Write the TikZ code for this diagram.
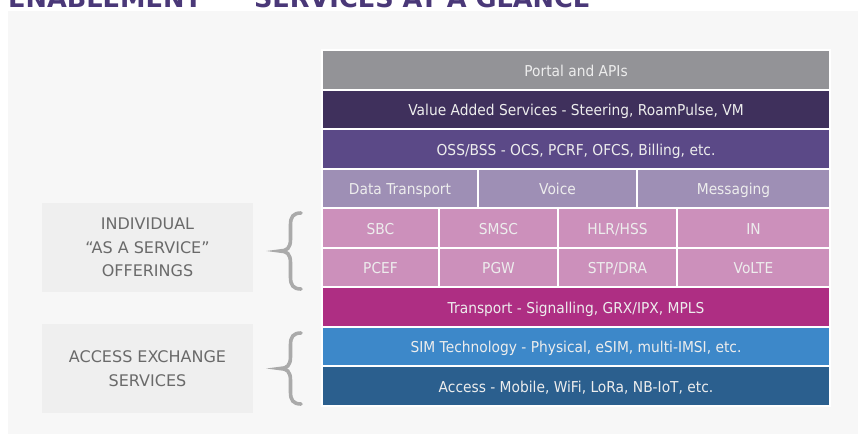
\documentclass[tikz,border=0pt]{standalone}
\usepackage{fontspec}
\setmainfont{DejaVu Sans}
\newfontfamily\barfont[FakeStretch=0.92]{DejaVu Sans}
\usepackage{tikz}

\definecolor{panelbg}{HTML}{F7F7F7}
\definecolor{sidebg}{HTML}{EFEFEF}
\definecolor{sidetext}{HTML}{6A6A6A}
\definecolor{bracegray}{HTML}{AAAAAA}
\definecolor{titlepurple}{HTML}{4A3878}
\definecolor{bartext}{HTML}{EDEDED}
\definecolor{portalgray}{HTML}{939397}
\definecolor{vaspurple}{HTML}{3F305C}
\definecolor{osspurple}{HTML}{5B4987}
\definecolor{svclilac}{HTML}{9E8FB5}
\definecolor{netpink}{HTML}{CC90BB}
\definecolor{transmagenta}{HTML}{AE2E83}
\definecolor{simblue}{HTML}{3D88C9}
\definecolor{accessblue}{HTML}{2B5F8E}

\tikzset{
  layer/.style={draw=white, line width=2pt, inner sep=0pt, minimum height=39.5pt,
    text height=13pt, text depth=0pt,
    text=bartext, font=\barfont\fontsize{15}{17}\selectfont},
  fullbar/.style={layer, minimum width=508pt},
  sidebox/.style={fill=sidebg, minimum width=211pt, minimum height=89pt, inner sep=0pt,
    align=center, text=sidetext, font=\fontsize{16}{23.5}\selectfont},
}

\begin{document}
\begin{tikzpicture}[x=1pt,y=-1pt]
    \useasboundingbox (0,0) rectangle (858,434);
    \fill[panelbg] (8,11) rectangle (858,434);
    % title, cut off by the top edge
    \node[anchor=base west, inner sep=0pt, text=titlepurple, font=\fontsize{25.6}{30}\selectfont\bfseries]
        (title) at (8,7.5) {ENABLEMENT\, \raisebox{2pt}{—} \,SERVICES AT A GLANCE};

    % stack of layers
    \node[fullbar, fill=portalgray]   (portal) at (576,69.75)  {Portal and APIs};
    \node[fullbar, fill=vaspurple]    (vas)    at (576,109.25) {Value Added Services - Steering, RoamPulse, VM};
    \node[fullbar, fill=osspurple]    (oss)    at (576,148.75) {OSS/BSS - OCS, PCRF, OFCS, Billing, etc.};
    \node[layer, fill=svclilac, minimum width=156pt] (data)  at (400,188.25)   {Data Transport};
    \node[layer, fill=svclilac, minimum width=159pt] (voice) at (557.5,188.25) {Voice};
    \node[layer, fill=svclilac, minimum width=193pt] (msg)   at (733.5,188.25) {Messaging};
    \node[layer, fill=netpink, minimum width=117pt] (sbc)  at (380.5,227.75) {SBC};
    \node[layer, fill=netpink, minimum width=119pt] (smsc) at (498.5,227.75) {SMSC};
    \node[layer, fill=netpink, minimum width=119pt] (hlr)  at (617.5,227.75) {HLR/HSS};
    \node[layer, fill=netpink, minimum width=153pt] (in)   at (753.5,227.75) {IN};
    \node[layer, fill=netpink, minimum width=117pt] (pcef) at (380.5,267.25) {PCEF};
    \node[layer, fill=netpink, minimum width=119pt] (pgw)  at (498.5,267.25) {PGW};
    \node[layer, fill=netpink, minimum width=119pt] (stp)  at (617.5,267.25) {STP/DRA};
    \node[layer, fill=netpink, minimum width=153pt] (volte) at (753.5,267.25) {VoLTE};
    \node[fullbar, fill=transmagenta] (transport) at (576,306.75) {Transport - Signalling, GRX/IPX, MPLS};
    \node[fullbar, fill=simblue]      (sim)       at (576,346.25) {SIM Technology - Physical, eSIM, multi-IMSI, etc.};
    \node[fullbar, fill=accessblue]   (access)    at (576,385.75) {Access - Mobile, WiFi, LoRa, NB-IoT, etc.};

    % side labels
    \node[sidebox] (offerings) at (147.5,247.5) {INDIVIDUAL\\“AS A SERVICE”\\OFFERINGS};
    \node[sidebox] (exchange)  at (147.5,368.5) {ACCESS EXCHANGE\\SERVICES};

    % braces
    \foreach \btop/\bbot in {213/289, 333/404}{
        \pgfmathsetmacro{\bmid}{(\btop+\bbot)/2}
        \draw[bracegray, line width=3.6pt, line cap=round]
            (301,\btop) .. controls (293,\btop) and (290.5,\btop+4) .. (290.5,\btop+12)
            -- (290.5,\bmid-12) .. controls (290.5,\bmid-3) and (287,\bmid) .. (280,\bmid)
            .. controls (287,\bmid) and (290.5,\bmid+3) .. (290.5,\bmid+12)
            -- (290.5,\bbot-12) .. controls (290.5,\bbot-4) and (293,\bbot) .. (301,\bbot);
    }
\end{tikzpicture}
\end{document}
